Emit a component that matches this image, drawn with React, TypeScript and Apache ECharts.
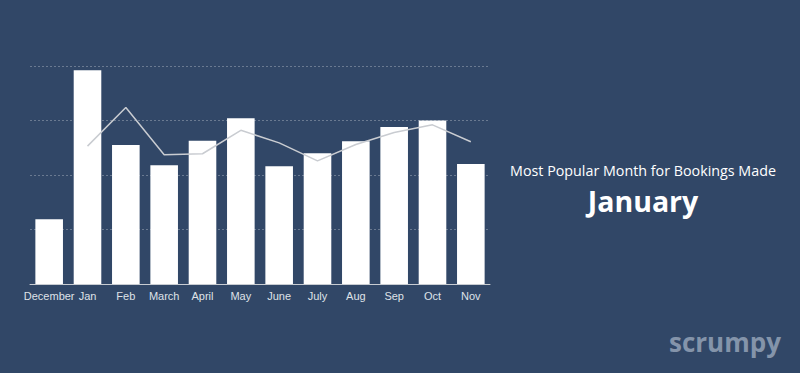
import React, { useEffect, useRef } from "react";
import * as echarts from "echarts";

const months = ["December", "Jan", "Feb", "March", "April", "May", "June", "July", "Aug", "Sep", "Oct", "Nov"];
const bookings = [11.9, 39.2, 25.5, 21.8, 26.3, 30.4, 21.6, 24.0, 26.2, 28.8, 30.0, 22.0];
const trend: (number | string)[] = ["-", 25.3, 32.4, 23.7, 23.9, 28.2, 25.9, 22.6, 25.6, 27.8, 29.2, 26.1];
const headline = "Most Popular Month for Bookings Made";
const topMonth = "January";
const brand = "scrumpy";

export default function App() {
  const ref = useRef<HTMLDivElement>(null);
  useEffect(() => {
    if (!ref.current) return;
    const chart = echarts.init(ref.current, null, { renderer: "svg" });
    chart.setOption({
      animation: false,
      backgroundColor: "#314767",
      grid: { left: 30, right: 310, top: 66, bottom: 89 },
      xAxis: {
        type: "category",
        data: months,
        axisLine: { show: true, lineStyle: { color: "#c8ccd2", width: 1 } },
        axisTick: { show: false },
        axisLabel: {
          color: "#dfe2e7",
          fontSize: 11,
          fontFamily: "Liberation Sans, Arial, sans-serif",
          margin: 6,
          interval: 0,
        },
      },
      yAxis: {
        type: "value",
        min: 0,
        max: 40,
        interval: 10,
        axisLabel: { show: false },
        axisLine: { show: false },
        axisTick: { show: false },
        splitLine: { show: true, lineStyle: { color: "rgba(255,255,255,0.28)", type: [2, 2], width: 1 } },
      },
      series: [
        {
          type: "bar",
          data: bookings,
          barCategoryGap: "28%",
          itemStyle: { color: "#ffffff" },
        },
        {
          type: "line",
          data: trend,
          symbol: "none",
          lineStyle: { color: "#c9ccd1", width: 1.5 },
          z: 5,
        },
      ],
      graphic: [
        {
          type: "text",
          x: 643,
          y: 170,
          style: {
            text: headline,
            fill: "#ffffff",
            font: "14.3px 'Open Sans', 'Noto Sans', sans-serif",
            textAlign: "center",
            textVerticalAlign: "middle",
          },
        },
        {
          type: "text",
          x: 643,
          y: 201,
          style: {
            text: topMonth,
            fill: "#ffffff",
            font: "bold 28.5px 'Open Sans', 'Noto Sans', sans-serif",
            textAlign: "center",
            textVerticalAlign: "middle",
          },
        },
        {
          type: "text",
          x: 725,
          y: 342,
          style: {
            text: brand,
            fill: "#8494aa",
            font: "bold 26px 'Open Sans', 'Noto Sans', sans-serif",
            textAlign: "center",
            textVerticalAlign: "middle",
          },
        },
      ],
    });
    return () => chart.dispose();
  }, []);
  return <div ref={ref} style={{ position: "fixed", left: 0, top: 0, width: 800, height: 373 }} />;
}
